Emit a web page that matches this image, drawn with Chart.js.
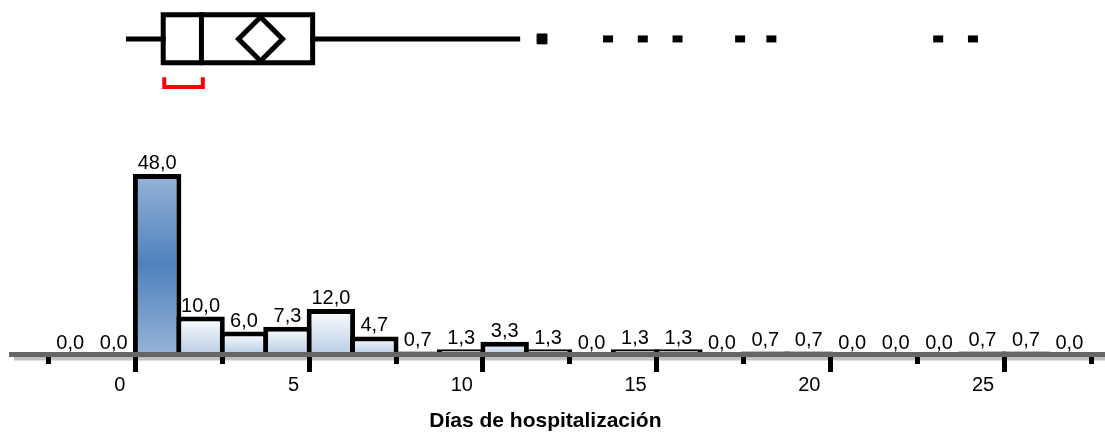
<!DOCTYPE html>
<html lang="es">
<head>
<meta charset="UTF-8">
<title>Días de hospitalización</title>
<script src="https://cdn.jsdelivr.net/npm/chart.js"></script>
<style>
  html, body { margin: 0; padding: 0; background: #fff; }
  .grafico { position: relative; width: 1105px; height: 438px; }
</style>
</head>
<body>
<div class="grafico"><canvas id="myChart"></canvas></div>
<script>
// histograma: centro de cada clase (días) y porcentaje de pacientes
const centros = [-1.875, -0.625, 0.625, 1.875, 3.125, 4.375, 5.625, 6.875, 8.125, 9.375, 10.625, 11.875,
                 13.125, 14.375, 15.625, 16.875, 18.125, 19.375, 20.625, 21.875, 23.125, 24.375, 25.625, 26.875];
const porcentajes = [0.0, 0.0, 48.0, 10.0, 6.0, 7.3, 12.0, 4.7, 0.7, 1.3, 3.3, 1.3,
                     0.0, 1.3, 1.3, 0.0, 0.7, 0.7, 0.0, 0.0, 0.0, 0.7, 0.7, 0.0];

// diagrama de caja (mismas unidades del eje x)
const bigotes = [-0.2, 11.0];
const cuartiles = [0.8, 1.9, 5.1];   // Q1, mediana, Q3
const media = [3.6];
const icMediana = [0.83, 1.94];
const atipicos = [11.7, 13.6, 14.6, 15.6, 17.4, 18.3, 23.1, 24.1];

// eje x: marcas y las que llevan numero
const ejeMin = -3.58, ejeMax = 27.9;
const marcas = [-2.5, 0, 2.5, 5, 7.5, 10, 12.5, 15, 17.5, 20, 22.5, 25, 27.5];
const marcasConNumero = [0, 5, 10, 15, 20, 25];

// niveles verticales de la caja (fraccion del area del grafico)
const CAJA_ARRIBA = 0.958, CAJA_ABAJO = 0.823, CAJA_MEDIO = 0.890;
const IC_LINEA = 0.754, IC_PUNTA = 0.782;

const fuente = '"Liberation Sans", Arial, sans-serif';
Chart.defaults.font.family = fuente;

function degradado(ctx) {
    if (ctx.type !== 'data') return '#dbe5f1';
    const y = ctx.chart.scales.y;
    const arriba = y.getPixelForValue(ctx.raw.y);
    const base = y.getPixelForValue(0);
    if (!isFinite(arriba) || !isFinite(base) || arriba === base) return '#dbe5f1';
    const g = ctx.chart.ctx.createLinearGradient(0, arriba, 0, base);
    if (ctx.raw.y === Math.max(...porcentajes)) {
        g.addColorStop(0, '#95b3d7');
        g.addColorStop(0.5, '#4f81bd');
        g.addColorStop(1, '#95b3d7');
    } else {
        g.addColorStop(0, '#ffffff');
        g.addColorStop(1, '#b9cde5');
    }
    return g;
}

function linea(puntos, color, ancho) {
    return {
        type: 'line', xAxisID: 'x', yAxisID: 'yBox', data: puntos,
        borderColor: color, borderWidth: ancho, pointRadius: 0, fill: false, tension: 0,
        borderJoinStyle: 'miter', borderCapStyle: 'square', order: 0
    };
}

const q1 = cuartiles[0], med = cuartiles[1], q3 = cuartiles[2];

const datasets = [
    {
        type: 'bar', xAxisID: 'x', yAxisID: 'y',
        data: centros.map((c, i) => ({ x: c, y: porcentajes[i] })),
        backgroundColor: degradado,
        borderColor: '#000',
        borderWidth: 5,
        borderSkipped: 'bottom',
        barPercentage: 1.115,
        categoryPercentage: 1,
        order: 10
    },
    // caja
    linea([{x: q1, y: CAJA_ABAJO}, {x: q3, y: CAJA_ABAJO}, {x: q3, y: CAJA_ARRIBA}, {x: q1, y: CAJA_ARRIBA}, {x: q1, y: CAJA_ABAJO}], '#000', 5),
    // mediana
    linea([{x: med, y: CAJA_ABAJO}, {x: med, y: CAJA_ARRIBA}], '#000', 5),
    // bigotes
    linea([{x: bigotes[0], y: CAJA_MEDIO}, {x: q1, y: CAJA_MEDIO}], '#000', 5),
    linea([{x: q3, y: CAJA_MEDIO}, {x: bigotes[1], y: CAJA_MEDIO}], '#000', 5),
    // intervalo de la mediana
    Object.assign(linea([{x: icMediana[0], y: IC_PUNTA}, {x: icMediana[0], y: IC_LINEA}, {x: icMediana[1], y: IC_LINEA}, {x: icMediana[1], y: IC_PUNTA}], '#ff0000', 4), { borderCapStyle: 'butt' }),
    // media
    {
        type: 'line', xAxisID: 'x', yAxisID: 'yBox', showLine: false, order: 0,
        data: media.map(m => ({ x: m, y: CAJA_MEDIO })),
        pointStyle: 'rectRot', pointRadius: 22, pointBorderWidth: 5,
        pointBorderColor: '#000', pointBackgroundColor: '#fff'
    },
    // atipicos
    {
        type: 'line', xAxisID: 'x', yAxisID: 'yBox', showLine: false, order: 0,
        data: atipicos.map(a => ({ x: a, y: CAJA_MEDIO })),
        pointStyle: c => c.dataIndex === 0 ? 'rect' : 'line',
        pointRadius: c => c.dataIndex === 0 ? 7 : 5,
        pointBorderWidth: c => c.dataIndex === 0 ? 1 : 7,
        pointBorderColor: '#000', pointBackgroundColor: '#000'
    }
];

// etiquetas de valor encima de cada barra + linea gris clara bajo el eje
const etiquetas = {
    id: 'etiquetas',
    beforeDatasetsDraw(chart) {
        const area = chart.chartArea;
        const c = chart.ctx;
        c.save();
        c.fillStyle = '#c0c0c0';
        c.fillRect(area.left + 3, area.bottom + 2.5, area.right - area.left, 4);
        c.restore();
    },
    afterDatasetsDraw(chart) {
        const meta = chart.getDatasetMeta(0);
        const y = chart.scales.y;
        const c = chart.ctx;
        c.save();
        c.font = '20px ' + fuente;
        c.fillStyle = '#000';
        c.textAlign = 'center';
        c.textBaseline = 'alphabetic';
        meta.data.forEach((barra, i) => {
            const v = porcentajes[i];
            c.fillText(v.toFixed(1).replace('.', ','), barra.x, y.getPixelForValue(v) - 5);
        });
        c.restore();
    }
};

new Chart(document.getElementById('myChart'), {
    type: 'bar',
    data: { datasets: datasets },
    options: {
        responsive: true,
        maintainAspectRatio: false,
        animation: false,
        events: [],
        layout: { autoPadding: false, padding: { left: 11, right: 0, top: 0, bottom: 4.4 } },
        plugins: { legend: { display: false }, tooltip: { enabled: false } },
        scales: {
            x: {
                type: 'linear', position: 'bottom', min: ejeMin, max: ejeMax, bounds: 'data', offset: false,
                afterBuildTicks: eje => { eje.ticks = marcas.map(v => ({ value: v })); },
                grid: {
                    offset: false, drawOnChartArea: false, tickLength: 18, tickWidth: 5, tickColor: '#000', z: 1,
                    // marcas sin numero mas cortas
                    tickBorderDash: c => (c.tick && !marcasConNumero.includes(c.tick.value) ? [7, 40] : [])
                },
                border: { color: '#666666', width: 5, z: 1 },
                ticks: {
                    autoSkip: false, maxRotation: 0,
                    align: 'end', padding: 1, color: '#000', font: { size: 20 },
                    callback: v => (marcasConNumero.includes(v) ? v + '\u2002' : '')
                },
                title: {
                    display: true, text: 'Días de hospitalización\u2003\u2009', color: '#000',
                    font: { size: 21, weight: 'bold' }, padding: { top: 10.4, bottom: 0 }
                }
            },
            y: { display: false, min: 0, max: 94.4 },
            yBox: { display: false, min: 0, max: 1 }
        }
    },
    plugins: [etiquetas]
});
</script>
</body>
</html>
